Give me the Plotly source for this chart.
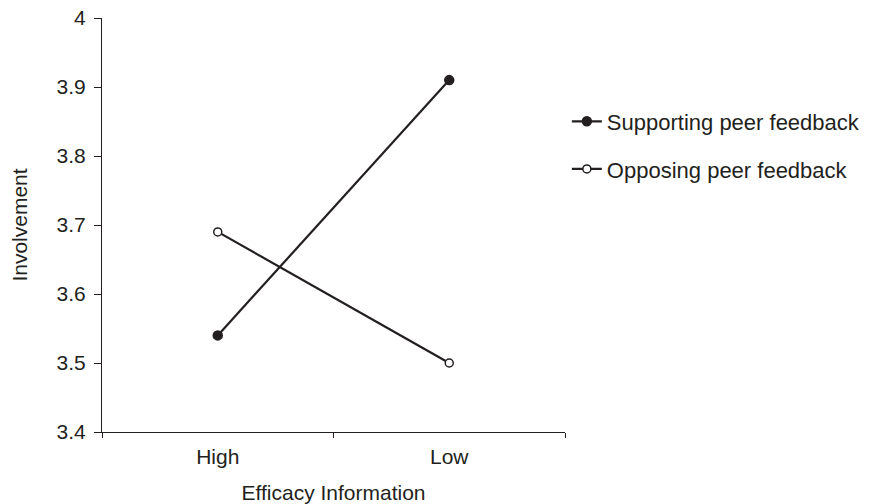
import plotly.graph_objects as go

categories = ["High", "Low"]
supporting = [3.54, 3.91]
opposing = [3.69, 3.50]
series_names = ["Supporting peer feedback", "Opposing peer feedback"]
y_ticks = [3.4, 3.5, 3.6, 3.7, 3.8, 3.9, 4.0]
y_tick_labels = ["3.4", "3.5", "3.6", "3.7", "3.8", "3.9", "4"]

line_color = "#231f20"
fig = go.Figure()
fig.add_trace(go.Scatter(
    x=categories, y=supporting, name=series_names[0], mode="lines+markers",
    line=dict(color=line_color, width=2.2),
    marker=dict(symbol="circle", size=9, color=line_color, line=dict(color=line_color, width=1.5)),
    legendgroup="a",
))
fig.add_trace(go.Scatter(
    x=categories, y=opposing, name=series_names[1], mode="lines+markers",
    line=dict(color=line_color, width=2.2),
    marker=dict(symbol="circle", size=8, color="white", line=dict(color=line_color, width=1.5)),
    legendgroup="b",
))

font_family = "Liberation Sans, Arial, sans-serif"
fig.update_layout(
    width=877, height=504,
    margin=dict(l=102, r=312, t=18, b=72),
    paper_bgcolor="white", plot_bgcolor="white",
    font=dict(family=font_family, size=21, color="#231f20"),
    showlegend=True,
    legend=dict(
        x=1.004, xanchor="left", y=0.692, yanchor="middle",
        font=dict(family=font_family, size=22, color="#231f20"), tracegroupgap=16,
        bgcolor="rgba(0,0,0,0)",
    ),
    xaxis=dict(
        type="category", range=[-0.5, 1.5], tickson="boundaries",
        showline=True, linecolor=line_color, linewidth=1.2,
        ticks="outside", ticklen=5, tickcolor=line_color, ticklabelstandoff=6,
        tickfont=dict(family=font_family, size=21, color="#231f20"),
        showgrid=False, zeroline=False, automargin=False,
        title=dict(text="Efficacy Information", standoff=20,
                   font=dict(family=font_family, size=21, color="#231f20")),
    ),
    yaxis=dict(
        range=[3.4, 4.0], tickvals=y_ticks, ticktext=y_tick_labels,
        showline=True, linecolor=line_color, linewidth=1.2,
        ticks="outside", ticklen=7, tickcolor=line_color, ticklabelstandoff=4,
        tickfont=dict(family=font_family, size=21, color="#231f20"),
        showgrid=False, zeroline=False, automargin=False,
        title=dict(text="Involvement", standoff=23,
                   font=dict(family=font_family, size=21, color="#231f20")),
    ),
)

fig.write_html("out.html", config={"displayModeBar": False},
               post_script="document.body.style.margin='0';")
